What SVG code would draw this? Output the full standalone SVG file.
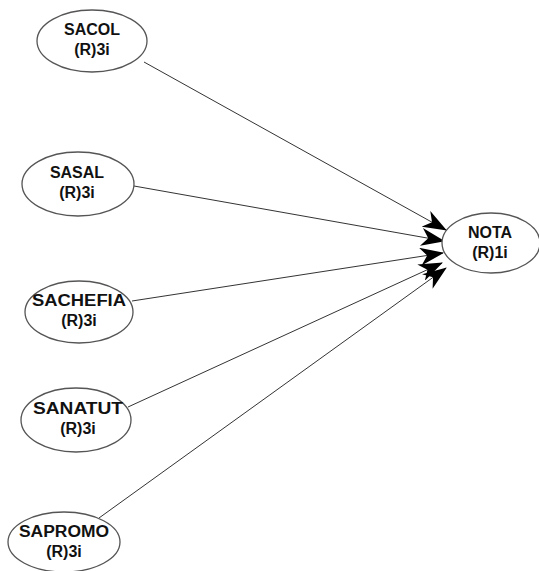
<svg xmlns="http://www.w3.org/2000/svg" width="539" height="571" viewBox="0 0 539 571">
<style>
.n ellipse{fill:#fff;stroke:#555;stroke-width:1.3}
.n text{font-family:"Liberation Sans",Arial,sans-serif;font-weight:bold;font-size:16px;text-anchor:middle;fill:#111}
.c line{stroke:#333;stroke-width:1;marker-end:url(#ah)}
</style>
<defs>
<marker id="ah" viewBox="0 0 24 18" refX="23" refY="9" markerWidth="24" markerHeight="18" markerUnits="userSpaceOnUse" orient="auto">
<path d="M0,0 L24,9 L0,18 L7,9 Z" fill="#000"/>
</marker>
</defs>
<rect width="539" height="571" fill="#fff"/>
<g class="c" id="connectors">
<line x1="144" y1="62" x2="446" y2="230"/>
<line x1="134" y1="186" x2="444" y2="241"/>
<line x1="132" y1="301" x2="443" y2="253"/>
<line x1="128" y1="407" x2="442" y2="263"/>
<line x1="99" y1="518" x2="446" y2="268"/>
</g>
<g class="n" id="SACOL"><ellipse cx="92" cy="41" rx="55" ry="31"/><text x="92" y="35">SACOL</text><text x="92" y="55">(R)3i</text></g>
<g class="n" id="SASAL"><ellipse cx="78" cy="184" rx="56" ry="32"/><text x="77" y="178">SASAL</text><text x="77" y="198">(R)3i</text></g>
<g class="n" id="SACHEFIA"><ellipse cx="79" cy="312" rx="54" ry="31"/><text x="79" y="306" textLength="94" lengthAdjust="spacingAndGlyphs">SACHEFIA</text><text x="79" y="326">(R)3i</text></g>
<g class="n" id="SANATUT"><ellipse cx="76" cy="420" rx="55" ry="32"/><text x="78" y="414" textLength="90" lengthAdjust="spacingAndGlyphs">SANATUT</text><text x="78" y="434">(R)3i</text></g>
<g class="n" id="SAPROMO"><ellipse cx="64" cy="542" rx="56" ry="30"/><text x="64" y="537" textLength="90" lengthAdjust="spacingAndGlyphs">SAPROMO</text><text x="64" y="557">(R)3i</text></g>
<g class="n" id="NOTA"><ellipse cx="491" cy="243" rx="49" ry="30"/><text x="490" y="238">NOTA</text><text x="490" y="258">(R)1i</text></g>
</svg>
